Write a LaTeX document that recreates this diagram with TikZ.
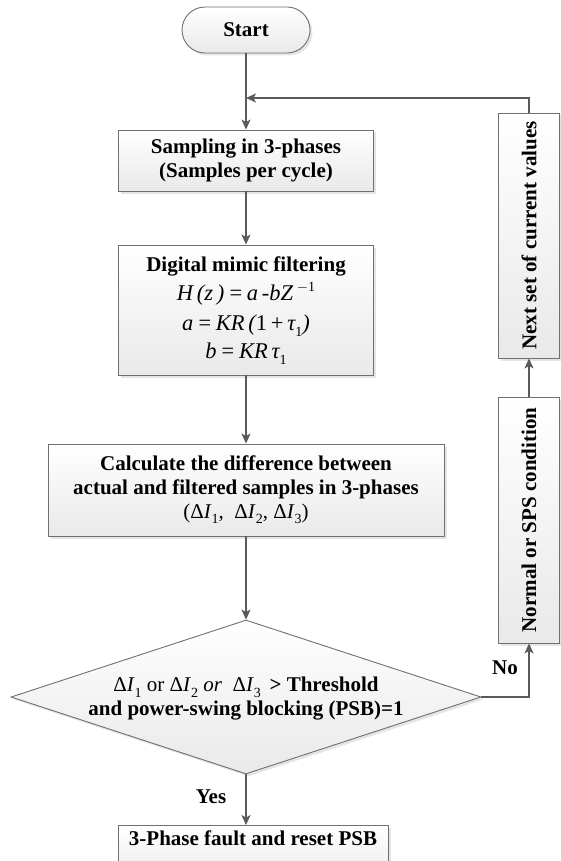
\documentclass[tikz,border=0pt]{standalone}
\usepackage{fontspec}
\setmainfont{Liberation Serif}
\usetikzlibrary{shapes.geometric,arrows.meta,shadows}

\definecolor{linegray}{HTML}{5A5A5A}
\definecolor{edgegray}{HTML}{707070}
\definecolor{fillbottom}{HTML}{E9E9E9}

% small lowered / raised indices for the formulas
\newcommand{\lowsub}[1]{\raisebox{-0.55ex}{\fontsize{14}{14}\selectfont #1}}
\newcommand{\highsup}[1]{\raisebox{0.85ex}{\fontsize{14}{14}\selectfont #1}}
\newcommand{\formula}{\normalfont\itshape\fontsize{22.5}{26}\selectfont}

\begin{document}
\begin{tikzpicture}[x=1pt,y=-1pt,
  every node/.style={font=\bfseries\fontsize{21}{24}\selectfont, text=black},
  procbox/.style={draw=edgegray, line width=0.9pt,
    top color=white, bottom color=fillbottom,
    drop shadow={shadow xshift=2.5pt, shadow yshift=-2.5pt, fill=black, opacity=0.10},
    inner sep=0pt, align=center},
  startbox/.style={procbox, rounded corners=23pt},
  decision/.style={diamond, draw=edgegray, line width=0.9pt,
    top color=white, bottom color=fillbottom,
    drop shadow={shadow xshift=2.5pt, shadow yshift=-2.5pt, fill=black, opacity=0.10},
    inner sep=0pt},
  flow/.style={draw=linegray, line width=1.2pt,
    -{Stealth[length=10pt, width=9pt, inset=2.5pt]}},
  tag/.style={font=\bfseries\fontsize{21}{24}\selectfont}
]
\useasboundingbox[fill=white] (0,0) rectangle (560,861);

% main column
\node[startbox, minimum width=128pt, minimum height=46pt] (start) at (246,30) {Start};

\node[procbox, minimum width=255pt, minimum height=61pt] (samp) at (246,160.5)
  {Sampling in 3-phases\\(Samples per cycle)};

\node[procbox, minimum width=255pt, minimum height=130pt, text depth=5pt] (digi) at (246,310)
  {Digital mimic filtering\\[5pt]
   {\formula H\,(z\,)\,=\,a\,-bZ\,\highsup{\upshape $-$1}}\\[6pt]
   {\formula a\,=\,KR\,(\upshape 1\,+\,\itshape τ\lowsub{\upshape 1})}\\[4pt]
   {\formula b\,=\,KR\,τ\lowsub{\upshape 1}}};

\node[procbox, minimum width=396pt, minimum height=92pt] (calc) at (246,490)
  {Calculate the difference between\\
   actual and filtered samples in 3-phases\\
   {\normalfont\fontsize{21}{24}\selectfont (Δ\textit{I}\lowsub{1}, \ Δ\textit{I}\lowsub{2}, Δ\textit{I}\lowsub{3})}};

\node[decision, minimum width=470pt, minimum height=154pt] (dec) at (246,697) {};
\node[align=center] (dectext) at (246,699)
  {{\normalfont\fontsize{21}{24}\selectfont Δ\textit{I}\lowsub{1} or Δ\textit{I}\lowsub{2} \textit{or} \ Δ\textit{I}\lowsub{3}} \,> Threshold\\
   and power-swing blocking (PSB)=1};

\node[procbox, anchor=north, minimum width=270pt, text height=20pt, text depth=40pt] (final) at (253,825)
  {3-Phase fault and reset PSB};

% feedback column
\node[procbox, minimum width=61pt, minimum height=245pt] (next) at (529,235.5)
  {\rotatebox{90}{Next set of current values}};
\node[procbox, minimum width=61pt, minimum height=246pt] (normal) at (529,520)
  {\rotatebox{90}{Normal or SPS condition}};

\coordinate (join) at (246,98);

% connectors
\draw[flow] (start.south) -- (samp.north);
\draw[flow] (next.north) |- (join);
\draw[flow] (samp.south) -- (digi.north);
\draw[flow] (digi.south) -- (calc.north);
\draw[flow] (calc.south) -- (dec.north);
\draw[flow] (dec.east) -| (normal.south);
\draw[flow] (normal.north) -- (next.south);
\draw[flow] (dec.south) -- (dec.south |- final.north);

% branch labels
\node[tag] (nolabel) at (505,668) {No};
\node[tag] (yeslabel) at (211,797) {Yes};
\end{tikzpicture}
\end{document}
